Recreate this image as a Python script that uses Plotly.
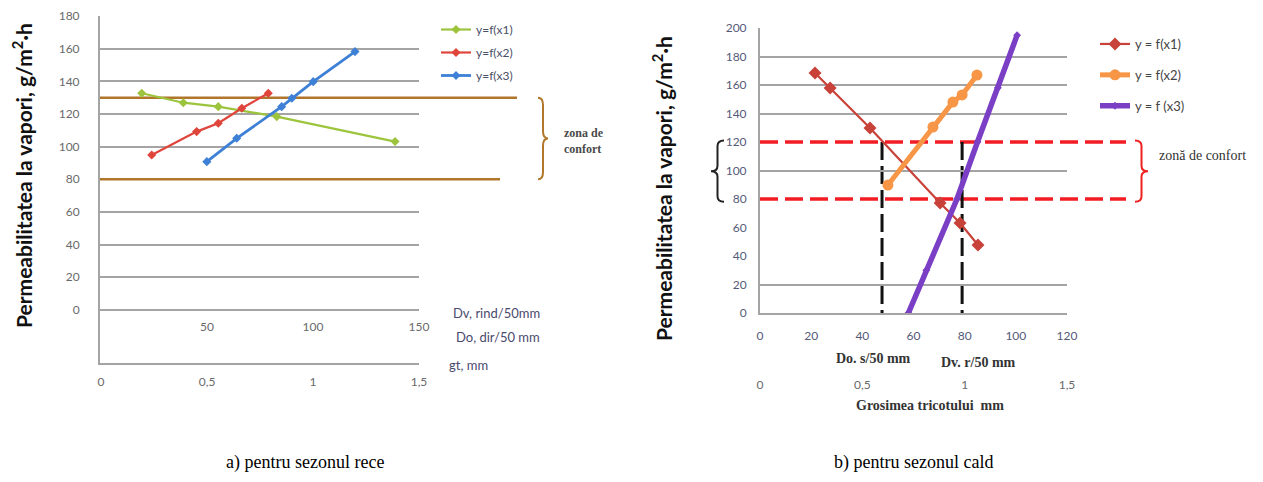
import plotly.graph_objects as go

W, H = 1263, 482
OFF = 8  # the page body adds an 8px offset around the figure


def px(x):
    return (x - OFF) / W


def py(y):
    return 1 - (y - OFF) / H


# ---------------- data: a) cold season ----------------
cold_x1 = [19.2, 38.8, 55.3, 82.9, 138.7]
cold_y1 = [132.7, 126.9, 124.5, 118.4, 103.1]
cold_x2 = [23.9, 45.1, 55.3, 66.4, 78.9]
cold_y2 = [94.9, 109.2, 114.3, 123.5, 132.7]
cold_x3 = [49.9, 64.0, 85.2, 90.0, 100.1, 119.8]
cold_y3 = [90.8, 105.1, 124.5, 129.6, 139.8, 158.2]
cold_names = ["y=f(x1)", "y=f(x2)", "y=f(x3)"]
cold_comfort = [80, 130]
cold_yticks = [0, 20, 40, 60, 80, 100, 120, 140, 160, 180]
cold_grid = [0, 20, 40, 60, 100, 120, 140, 160, 180]
cold_dens_ticks = [50, 100, 150]
thick_ticks = [0, 0.5, 1, 1.5]
thick_text = ["0", "0,5", "1", "1,5"]

# ---------------- data: b) warm season ----------------
warm_x1 = [21.5, 27.4, 43.0, 70.4, 78.2, 85.2]
warm_y1 = [168.4, 157.9, 129.8, 77.2, 63.2, 47.7]
warm_x2 = [50.0, 67.6, 75.4, 79.0, 84.8]
warm_y2 = [89.8, 130.5, 148.0, 153.0, 167.0]
warm_x3 = [58, 65, 77, 85, 93, 100.5]
warm_y3 = [0, 30, 80, 120, 158, 195]
warm_names = ["y = f(x1)", "y = f(x2)", "y = f (x3)"]
warm_comfort = [80, 120]
warm_limits_x = [47.7, 79.0]
warm_yticks = [0, 20, 40, 60, 80, 100, 120, 140, 160, 180, 200]
warm_grid = [0, 20, 100, 140, 160, 180, 200]
warm_xticks = [0, 20, 40, 60, 80, 100, 120]

ytitle = "<b>Permeabilitatea la vapori, g/m<sup>2</sup>·h</b>"

GRID = "#a4a4a4"
TICKFONT = dict(family="Lato", size=12, color="#6a6a6a")
TICKFONT_R = dict(family="Lato", size=12, color="#555a78")

fig = go.Figure()

# cold traces
cold_colors = ["#9cc43c", "#e0453c", "#3d80d6"]
for i, (xs, ys) in enumerate([(cold_x1, cold_y1), (cold_x2, cold_y2), (cold_x3, cold_y3)]):
    fig.add_trace(go.Scatter(
        x=xs, y=ys, mode="lines+markers", name=cold_names[i],
        line=dict(color=cold_colors[i], width=2.2 if i < 2 else 2.8),
        marker=dict(symbol="diamond", size=7, color=cold_colors[i]),
        xaxis="x", yaxis="y", legend="legend", legendgroup="c%d" % i))

# warm traces
warm_colors = ["#c8423a", "#f79646", "#7b3fc6"]
warm_widths = [2.2, 5, 5.5]
warm_msize = [10, 11, 6]
warm_sym = ["diamond", "circle", "diamond"]
for i, (xs, ys) in enumerate([(warm_x1, warm_y1), (warm_x2, warm_y2), (warm_x3, warm_y3)]):
    fig.add_trace(go.Scatter(
        x=xs, y=ys, mode="lines+markers", name=warm_names[i],
        line=dict(color=warm_colors[i], width=warm_widths[i]),
        marker=dict(symbol=warm_sym[i], size=warm_msize[i], color=warm_colors[i]),
        xaxis="x2", yaxis="y2", legend="legend2", legendgroup="w%d" % i))

# empty carriers so that the secondary (label / grid) axes get drawn
for xa, ya in [("x3", "y"), ("x", "y6"), ("x4", "y2"), ("x2", "y5")]:
    fig.add_trace(go.Scatter(x=[None], y=[None], xaxis=xa, yaxis=ya, showlegend=False,
                             hoverinfo="skip", mode="lines"))

# ---------------- shapes ----------------
shapes = []
for v, xend in zip(cold_comfort, [500, 517]):
    shapes.append(dict(type="line", xref="paper", yref="y", x0=px(100), x1=px(xend),
                       y0=v, y1=v, line=dict(color="#b0772c", width=2.5), layer="below"))
for v in warm_comfort:
    shapes.append(dict(type="line", xref="paper", yref="y2", x0=px(760), x1=px(1126),
                       y0=v, y1=v, line=dict(color="#f21c24", width=3.5, dash="18px,7px"),
                       layer="below"))
for xv in warm_limits_x:
    shapes.append(dict(type="line", xref="x2", yref="y2", x0=xv, x1=xv,
                       y0=warm_comfort[1], y1=0, line=dict(color="#111111", width=3, dash="18px,6px"),
                       layer="below"))


def brace(x_edge, w, y0, y1):
    """curly brace path: x in paper units, y in data units; w>0 points right."""
    ym = (y0 + y1) / 2
    q = (y1 - y0) * 0.09
    xs = x_edge + w / 2
    xt = x_edge + w
    return ("M{a},{b} Q{s},{b} {s},{c} L{s},{d} Q{s},{m} {t},{m} "
            "Q{s},{m} {s},{e} L{s},{f} Q{s},{g} {a},{g}").format(
        a=x_edge, b=y1, s=xs, c=y1 - q, d=ym + q, m=ym, t=xt, e=ym - q, f=y0 + q, g=y0)


shapes.append(dict(type="path", xref="paper", yref="y",
                   path=brace(px(538), 10 / W, cold_comfort[0], cold_comfort[1]),
                   line=dict(color="#b0772c", width=2)))
shapes.append(dict(type="path", xref="paper", yref="y2",
                   path=brace(px(1135), 13 / W, warm_comfort[0] - 2, warm_comfort[1] + 1),
                   line=dict(color="#ee2020", width=2)))
shapes.append(dict(type="path", xref="paper", yref="y2",
                   path=brace(px(724), -13 / W, warm_comfort[0] - 2, warm_comfort[1] + 1),
                   line=dict(color="#222222", width=2)))

# ---------------- annotations ----------------
ann = []
for x, y in [(22, 176), (662, 188)]:
    ann.append(dict(text=ytitle, x=px(x), y=py(y), xref="paper", yref="paper", textangle=-90,
                    showarrow=False, font=dict(family="Lato", size=21, color="#111"),
                    xanchor="center", yanchor="middle"))

ann.append(dict(text="<b>zona de<br>confort</b>", x=px(562), y=py(141), xref="paper", yref="paper",
                showarrow=False, xanchor="left", yanchor="middle", align="left",
                font=dict(family="Liberation Serif", size=12, color="#4a4a4a")))
for t, x, y in [("Dv, rind/50mm", 451, 313), ("Do, dir/50 mm", 454, 337), ("gt, mm", 447, 365)]:
    ann.append(dict(text=t, x=px(x), y=py(y), xref="paper", yref="paper", showarrow=False,
                    xanchor="left", yanchor="middle", font=dict(family="Lato", size=13, color="#4a4a6e")))

for t, x, y in [("<b>Do. s/50 mm</b>", 873, 358), ("<b>Dv. r/50 mm</b>", 978, 362),
                ("<b>Grosimea tricotului\u00a0 mm</b>", 930, 405)]:
    ann.append(dict(text=t, x=px(x), y=py(y), xref="paper", yref="paper", showarrow=False,
                    xanchor="center", yanchor="middle",
                    font=dict(family="Liberation Serif", size=14, color="#333")))
ann.append(dict(text="zonă de confort", x=px(1157), y=py(155), xref="paper", yref="paper", showarrow=False,
                xanchor="left", yanchor="middle", font=dict(family="Liberation Serif", size=14, color="#333")))

ann.append(dict(text="a) pentru sezonul rece", x=px(305), y=py(462), xref="paper", yref="paper",
                showarrow=False, xanchor="center", yanchor="middle",
                font=dict(family="Liberation Serif", size=18, color="#000")))
ann.append(dict(text="b) pentru sezonul cald", x=px(913), y=py(462), xref="paper", yref="paper",
                showarrow=False, xanchor="center", yanchor="middle",
                font=dict(family="Liberation Serif", size=18, color="#000")))

# ---------------- layout ----------------
fig.update_layout(
    width=W, height=H, margin=dict(l=0, r=0, t=0, b=0, autoexpand=False),
    paper_bgcolor="white", plot_bgcolor="rgba(0,0,0,0)",
    shapes=shapes, annotations=ann, hovermode=False,
    # left panel
    xaxis=dict(domain=[px(100), px(419)], range=[-0.5, 150], anchor="y",
               tickvals=cold_dens_ticks, showgrid=False, zeroline=False, showline=True,
               linecolor=GRID, linewidth=2, ticks="", ticklabelposition="inside",
               ticklabeloverflow="allow", ticklabelstandoff=29, tickfont=TICKFONT),
    xaxis3=dict(overlaying="x", anchor="y", range=[-0.005, 1.5], tickvals=thick_ticks, ticktext=thick_text,
                showgrid=False, zeroline=False, showline=False,
                ticks="outside", ticklen=8, tickcolor="rgba(0,0,0,0)", tickfont=TICKFONT),
    yaxis=dict(domain=[py(363), py(16)], range=[-32.5, 180], anchor="x", tickvals=cold_yticks,
               showgrid=False, zeroline=False, showline=True, linecolor=GRID, linewidth=2,
               ticks="outside", ticklen=16, tickcolor="rgba(0,0,0,0)", tickfont=TICKFONT),
    yaxis6=dict(overlaying="y", anchor="x", range=[-32.5, 180], tickvals=cold_grid, showticklabels=False,
                showgrid=True, gridcolor=GRID, gridwidth=2, zeroline=False, showline=False),
    # right panel
    xaxis2=dict(domain=[px(760), px(1067)], range=[0, 120], anchor="y2", tickvals=warm_xticks,
                showgrid=False, zeroline=False, showline=True, linecolor=GRID, linewidth=2,
                ticks="outside", ticklen=11, tickcolor="rgba(0,0,0,0)", tickfont=TICKFONT_R),
    xaxis4=dict(overlaying="x2", anchor="y2", range=[0, 1.5], tickvals=thick_ticks,
                ticktext=thick_text, showgrid=False, zeroline=False, showline=False,
                ticks="outside", ticklen=61, tickcolor="rgba(0,0,0,0)", tickfont=TICKFONT),
    yaxis2=dict(domain=[py(313), py(28)], range=[0, 200], anchor="x2", tickvals=warm_yticks,
                showgrid=False, zeroline=False, showline=True, linecolor=GRID, linewidth=2,
                ticks="outside", ticklen=9, tickcolor="rgba(0,0,0,0)", tickfont=TICKFONT_R),
    yaxis5=dict(overlaying="y2", anchor="x2", range=[0, 200], tickvals=warm_grid, showticklabels=False,
                showgrid=True, gridcolor=GRID, gridwidth=2, zeroline=False, showline=False),
    legend=dict(x=px(436), y=py(15), xanchor="left", yanchor="top", bgcolor="rgba(0,0,0,0)",
                font=dict(family="Lato", size=12, color="#4a5066"), tracegroupgap=4, itemwidth=30),
    legend2=dict(x=px(1095), y=py(29), xanchor="left", yanchor="top", bgcolor="rgba(0,0,0,0)",
                 font=dict(family="Lato", size=13, color="#444"), tracegroupgap=11, itemwidth=30),
)

fig.write_html("out.html")
